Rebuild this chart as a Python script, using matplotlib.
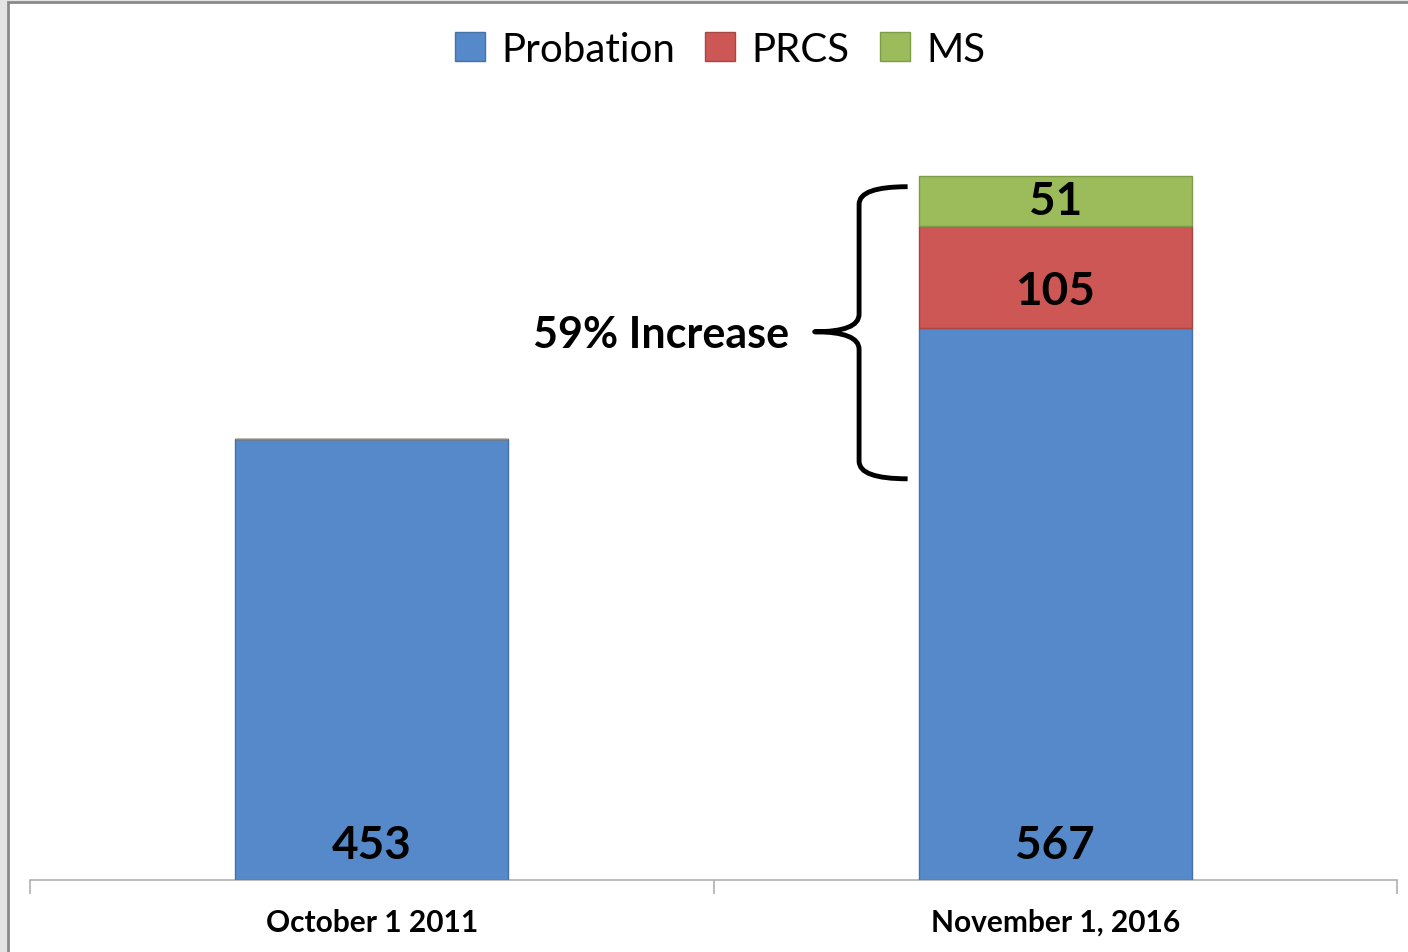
import numpy as np
import matplotlib.pyplot as plt
from matplotlib.patches import Rectangle
from matplotlib.path import Path
from matplotlib.patches import PathPatch

plt.rcParams['font.family'] = ['Lato', 'DejaVu Sans']

# data
categories = ['October 1 2011', 'November 1, 2016']
probation = [453, 567]
prcs = [0, 105]
ms = [0, 51]
series_names = ['Probation', 'PRCS', 'MS']
colors = ['#5589CA', '#CD5755', '#9CBC5B']
edge_colors = ['#4572A8', '#A84644', '#7E9B47']

fig = plt.figure(figsize=(14.08, 9.53), dpi=100)
fig.patch.set_facecolor('#e4e4e4')
# white chart area with grey frame
fig.patches.append(Rectangle((8/1408, -0.1), 1.1, 1 - 3/953 + 0.1, transform=fig.transFigure,
                             facecolor='white', edgecolor='#8a8a8a', linewidth=2, zorder=-5))

ax = fig.add_axes([30/1408, 1 - 881/953, 1367/1408, 779/953])
ax.set_facecolor('none')
x = np.arange(len(categories))
w = 0.4

bottom = np.zeros(len(categories))
bars = []
for vals, name, c, ec in zip([probation, prcs, ms], series_names, colors, edge_colors):
    vals = np.array(vals)
    b = ax.bar(x, vals, w, bottom=bottom, color=c, edgecolor=ec, linewidth=1, label=name, zorder=3)
    bars.append(b)
    bottom = bottom + vals

# value labels
for i in range(len(categories)):
    ax.text(x[i], 36, str(probation[i]), ha='center', va='center', fontsize=33, fontweight='bold', zorder=5)
ax.text(x[1], probation[1] + prcs[1] / 2 - 15, str(prcs[1]), ha='center', va='center',
        fontsize=33, fontweight='bold', zorder=5)
ax.text(x[1], probation[1] + prcs[1] + ms[1] / 2, str(ms[1]), ha='center', va='center',
        fontsize=33, fontweight='bold', zorder=5)

# brace
x_end, x_sp, x_tip = -0.216 + 1, -0.287 + 1, -0.352 + 1
y_top, y_bot, y_mid = 712, 412, 563
ry = 18
verts = [(x_end, y_top), (x_sp, y_top), (x_sp, y_top - ry), (x_sp, y_top - ry),
         (x_sp, y_mid + ry), (x_sp, y_mid), (x_tip, y_mid),
         (x_sp, y_mid), (x_sp, y_mid - ry),
         (x_sp, y_bot + ry), (x_sp, y_bot + ry), (x_sp, y_bot), (x_end, y_bot)]
codes = [Path.MOVETO, Path.CURVE3, Path.CURVE3, Path.LINETO,
         Path.LINETO, Path.CURVE3, Path.CURVE3,
         Path.CURVE3, Path.CURVE3,
         Path.LINETO, Path.LINETO, Path.CURVE3, Path.CURVE3]
ax.add_patch(PathPatch(Path(verts, codes), facecolor='none', edgecolor='black', linewidth=3.5,
                       capstyle='butt', joinstyle='round', zorder=4))
ax.text(-0.389 + 1, y_mid - 2, '59% Increase', ha='right', va='center', fontsize=31, fontweight='bold')

ax.set_xlim(-0.5, 1.5)
ax.set_ylim(0, 800)
ax.set_xticks(x)
ax.set_xticklabels(categories, fontsize=21.5, fontweight='bold')
ax.tick_params(axis='x', which='major', length=0, pad=20)
ax.set_xticks([-0.5, 0.5, 1.5], minor=True)
ax.tick_params(axis='x', which='minor', length=10, color='#b0b0b0', width=1.2)
ax.set_yticks([])
for s in ['top', 'right', 'left']:
    ax.spines[s].set_visible(False)
ax.spines['bottom'].set_color('#b0b0b0')
ax.spines['bottom'].set_linewidth(1.2)

leg = fig.legend(handles=[b[0] for b in bars], labels=series_names, loc='center',
                 bbox_to_anchor=(720/1408, 1 - 50/953), ncol=3, frameon=False, fontsize=29,
                 handlelength=0.75, handleheight=0.75, handletextpad=0.4, columnspacing=0.75)

plt.savefig('out.png', dpi=100, facecolor=fig.get_facecolor())
